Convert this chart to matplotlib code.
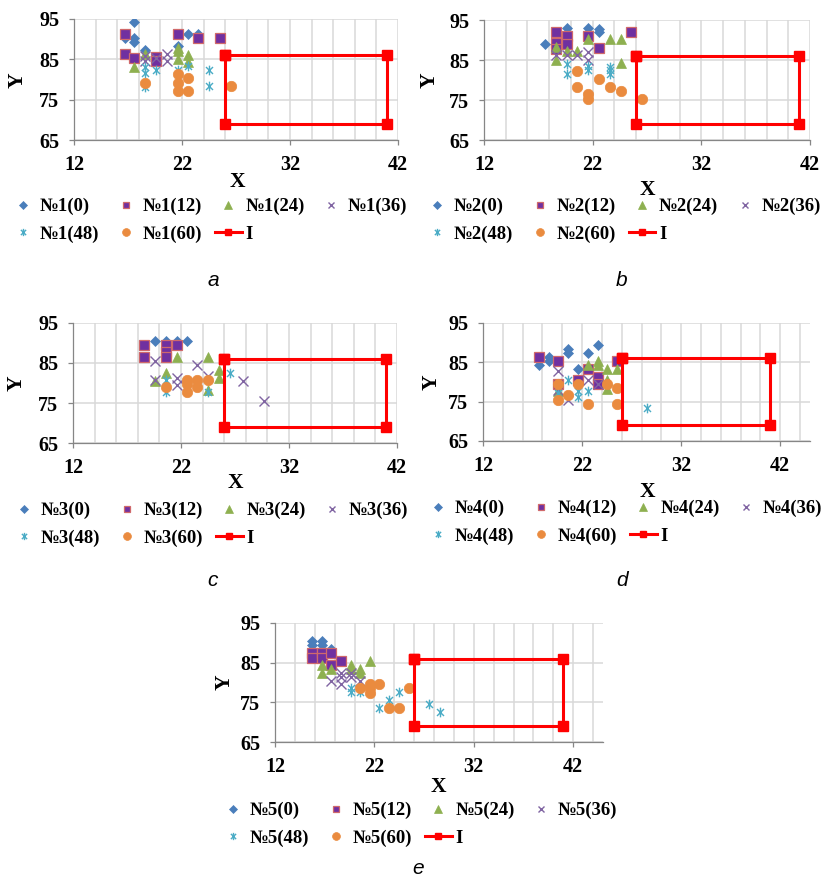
import numpy as np
import matplotlib
matplotlib.use("Agg")
import matplotlib.pyplot as plt
from matplotlib.path import Path

# series names (months) and panel ids
months = [0, 12, 24, 36, 48, 60]
panel_ids = [1, 2, 3, 4, 5]
captions = ["a", "b", "c", "d", "e"]

# region I
rect_x = [26, 41, 41, 26, 26]
rect_y = [86, 86, 69, 69, 86]

# panel a (No.1)
a_x = [[16.7, 17.6, 17.6, 17.6, 18.6, 19.6, 21.6, 22.6, 23.5],
       [16.7, 16.7, 17.6, 19.6, 19.6, 21.6, 23.5, 25.5],
       [17.6, 18.6, 21.6, 21.6, 21.6, 22.6, 22.6],
       [18.6, 18.6, 19.6, 20.6, 20.6],
       [18.6, 18.6, 18.6, 19.6, 21.6, 22.6, 24.5, 24.5],
       [18.6, 21.6, 21.6, 21.6, 22.6, 22.6, 26.5]]
a_y = [[90.3, 94.3, 90.4, 89.4, 87.4, 84.5, 88.2, 91.3, 91.3],
       [91.3, 86.4, 85.3, 85.5, 84.5, 91.3, 90.3, 90.3],
       [83.2, 86.4, 87.8, 87.0, 85.1, 86.1, 84.3],
       [84.5, 85.8, 85.3, 86.4, 84.5],
       [83.0, 81.6, 78.2, 82.4, 82.4, 83.4, 82.4, 78.4],
       [79.2, 81.4, 79.2, 77.2, 80.3, 77.2, 78.4]]

# panel b (No.2)
b_x = [[17.6, 18.6, 19.6, 21.6, 22.6, 22.6],
       [18.6, 18.6, 18.6, 19.6, 19.6, 21.6, 22.6, 25.5],
       [18.6, 18.6, 19.6, 20.6, 21.6, 23.6, 24.6, 24.6],
       [18.6, 19.6, 20.6, 21.6, 21.6],
       [19.6, 19.6, 21.6, 21.6, 23.6, 23.6, 23.6],
       [20.6, 20.6, 21.6, 21.6, 22.6, 23.6, 24.6, 26.5]]
b_y = [[89.0, 90.0, 93.0, 93.0, 92.8, 92.0],
       [92.1, 89.2, 87.8, 91.1, 89.0, 91.1, 88.0, 92.1],
       [88.3, 85.0, 87.3, 87.3, 90.2, 90.2, 90.2, 84.3],
       [86.3, 86.3, 86.3, 87.0, 85.0],
       [84.0, 81.5, 83.6, 82.5, 83.3, 82.4, 81.6],
       [82.2, 78.3, 76.5, 75.3, 80.3, 78.3, 77.3, 75.3]]

# panel c (No.3)
c_x = [[19.6, 20.6, 21.6, 22.6],
       [18.6, 18.6, 20.6, 20.6, 20.6, 21.6],
       [19.6, 20.6, 21.6, 24.5, 25.5, 25.5, 24.5],
       [19.6, 19.6, 21.6, 21.6, 23.5, 24.5, 27.7, 29.7],
       [20.6, 20.6, 24.5, 26.5, 23.5],
       [20.6, 22.6, 22.6, 22.6, 23.5, 23.5, 24.5]]
c_y = [[90.4, 90.4, 90.4, 90.4],
       [89.4, 86.5, 89.4, 87.8, 86.5, 89.4],
       [80.5, 82.5, 86.5, 86.5, 83.3, 81.3, 78.3],
       [85.5, 80.7, 81.3, 79.4, 84.4, 81.7, 80.5, 75.4],
       [80.7, 77.8, 77.8, 82.4, 80.0],
       [78.9, 80.7, 79.7, 77.8, 80.7, 78.9, 80.7]]

# panel d (No.4)
d_x = [[17.7, 18.7, 18.7, 20.6, 20.6, 21.6, 22.6, 23.6],
       [17.7, 19.6, 19.6, 21.6, 22.6, 23.6, 23.6, 25.5],
       [19.6, 22.6, 23.6, 23.6, 24.5, 24.5, 24.5, 25.5],
       [19.6, 19.6, 20.6, 22.6, 23.6],
       [19.6, 20.6, 21.6, 21.6, 22.6, 28.5],
       [19.6, 19.6, 20.6, 21.6, 22.6, 24.5, 25.5, 25.5]]
d_y = [[84.4, 86.4, 85.4, 88.4, 87.3, 83.3, 87.3, 89.3],
       [86.4, 85.4, 79.5, 80.5, 83.3, 81.3, 79.5, 85.4],
       [77.6, 84.4, 85.4, 84.4, 83.3, 80.5, 78.1, 83.3],
       [82.9, 77.9, 75.5, 80.5, 79.5],
       [77.3, 80.5, 77.6, 76.3, 77.6, 73.5],
       [79.5, 75.5, 76.6, 79.5, 74.5, 79.5, 78.5, 74.5]]

# panel e (No.5)
e_x = [[15.7, 15.7, 16.7, 16.7, 17.6],
       [15.7, 15.7, 16.7, 16.7, 17.6, 17.6, 18.6],
       [16.7, 16.7, 17.6, 19.6, 19.6, 20.6, 20.6, 21.6],
       [17.6, 18.6, 18.6, 18.6, 19.6, 19.6, 20.6],
       [19.6, 19.6, 20.6, 22.5, 23.5, 24.5, 27.5, 28.6],
       [20.6, 21.6, 21.6, 21.6, 22.5, 23.5, 24.5, 25.5]]
e_y = [[90.4, 89.5, 90.4, 89.5, 88.4],
       [87.4, 86.3, 87.4, 86.3, 87.4, 84.3, 85.4],
       [84.3, 82.4, 83.5, 84.3, 83.5, 83.5, 82.4, 85.4],
       [80.5, 82.4, 81.4, 79.5, 82.4, 81.4, 80.3],
       [78.6, 77.5, 77.5, 73.6, 75.7, 77.5, 74.6, 72.5],
       [78.6, 79.5, 78.6, 77.4, 79.5, 73.6, 73.6, 78.6]]

all_x = [a_x, b_x, c_x, d_x, e_x]
all_y = [a_y, b_y, c_y, d_y, e_y]
x_max = [42, 42, 42, 45, 45]

# asterisk like the excel one: vertical bar plus an x
star = Path([(0, -1), (0, 1), (-0.72, -0.72), (0.72, 0.72), (-0.72, 0.72), (0.72, -0.72)],
            [Path.MOVETO, Path.LINETO, Path.MOVETO, Path.LINETO, Path.MOVETO, Path.LINETO])

styles = [
    dict(marker="D", ms=5.0, mfc="#4A7EBB", mec="#4A7EBB", mew=0.5),
    dict(marker="s", ms=6.5, mfc="#7030A0", mec="#D0696B", mew=0.9),
    dict(marker="^", ms=7, mfc="#8EB050", mec="#8EB050", mew=0.5),
    dict(marker="x", ms=6.5, mfc="none", mec="#8064A2", mew=1.0),
    dict(marker=star, ms=7, mfc="none", mec="#4BACC6", mew=1.0),
    dict(marker="o", ms=7.5, mfc="#EA8B3F", mec="#EA8B3F", mew=0.5),
]
red = "#FF0000"

serif = ["Liberation Serif", "DejaVu Serif"]

W, H = 825, 882
fig = plt.figure(figsize=(W / 100, H / 100), dpi=100)

# axes boxes in pixels: left, top, right, bottom
boxes = [(74, 19, 398, 140), (484, 20, 810, 140), (73, 323, 397, 443),
         (483, 323, 810, 441), (275, 623, 603, 742)]
xlab_pos = [(237, 182), (647, 190), (235, 483), (647, 492), (438, 787)]
ylab_pos = [(18, 80), (430, 80), (17, 383), (432, 382), (225, 682)]
leg_pos = [(10, 198), (424, 198), (11, 502), (425, 500), (220, 802)]
cap_pos = [(213, 281), (622, 281), (213, 581), (622, 581), (418, 868)]

# excel fills the legend row by row, matplotlib column by column
leg_order = [0, 4, 1, 5, 2, 6, 3]

for k in range(5):
    l, t, r, b = boxes[k]
    ax = fig.add_axes([l / W, 1 - b / H, (r - l) / W, (b - t) / H])
    ax.set_xlim(12, x_max[k])
    ax.set_ylim(65, 95)
    ax.set_xticks([12, 22, 32, 42])
    ax.set_yticks([65, 75, 85, 95])
    ax.set_xticks(np.arange(14, x_max[k] + 0.1, 2), minor=True)
    ax.grid(True, which="both", axis="x", color="#D9D9D9", lw=1.1)
    ax.grid(True, which="major", axis="y", color="#D9D9D9", lw=1.1)
    ax.set_axisbelow(True)
    for s in ["top", "right"]:
        ax.spines[s].set_visible(False)
    for s in ["left", "bottom"]:
        ax.spines[s].set_color("#868686")
        ax.spines[s].set_linewidth(0.9)
    ax.tick_params(which="major", length=3.5, width=0.9, color="#868686", pad=7)
    ax.tick_params(which="minor", length=0)
    for lab in ax.get_xticklabels() + ax.get_yticklabels():
        lab.set_family(serif)
        lab.set_fontweight("bold")
        lab.set_fontsize(14.5)

    handles = []
    labels = []
    for i, m in enumerate(months):
        h, = ax.plot(all_x[k][i], all_y[k][i], ls="none", **styles[i])
        handles.append(h)
        labels.append("№%d(%d)" % (panel_ids[k], m))
    h, = ax.plot(rect_x, rect_y, color=red, lw=2.2, marker="s", ms=6.5,
                 mfc=red, mec=red, clip_on=False)
    handles.append(h)
    labels.append("I")

    ax.set_xlabel("X", family=serif, fontweight="bold", fontsize=15.5)
    ax.set_ylabel("Y", family=serif, fontweight="bold", fontsize=15.5)
    ax.xaxis.label.set(va="center", ha="center")
    ax.yaxis.label.set(va="center", ha="center")
    ax.xaxis.set_label_coords((xlab_pos[k][0] - l) / (r - l), (b - xlab_pos[k][1]) / (b - t))
    ax.yaxis.set_label_coords((ylab_pos[k][0] - l) / (r - l), (b - ylab_pos[k][1]) / (b - t))

    lx, ly = leg_pos[k]
    ax.legend([handles[j] for j in leg_order], [labels[j] for j in leg_order],
              loc="upper left", bbox_to_anchor=(lx / W, 1 - ly / H),
              bbox_transform=fig.transFigure, ncol=4, frameon=False,
              borderpad=0, borderaxespad=0,
              handlelength=1.4, handletextpad=0.2, columnspacing=0.7,
              labelspacing=0.55, markerscale=0.75,
              prop=dict(family=serif, weight="bold", size=13.5))

    fig.text(cap_pos[k][0] / W, 1 - cap_pos[k][1] / H, captions[k], ha="center", va="center",
             family=["Liberation Sans", "DejaVu Sans"], style="italic", fontsize=15)

fig.savefig("out.png", dpi=100)
